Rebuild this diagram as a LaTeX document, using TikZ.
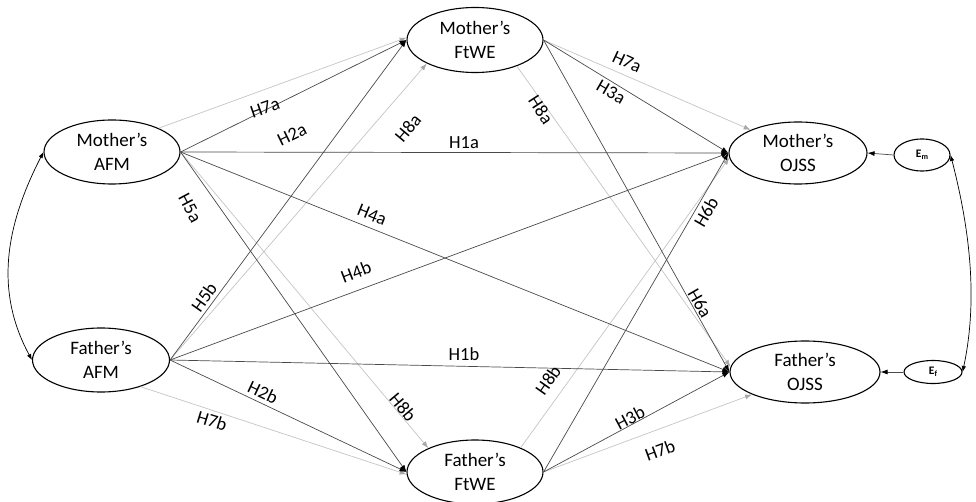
\documentclass[tikz,border=0pt]{standalone}
\usepackage{fontspec}
\setmainfont{Carlito}
\usetikzlibrary{shapes.geometric,arrows.meta}
\definecolor{darkline}{HTML}{4A4A4A}
\definecolor{lightline}{HTML}{C4C4C4}
\definecolor{lighthead}{HTML}{A8A8A8}
\newcommand{\errlab}[1]{E\raisebox{-2.5pt}{\fontsize{8}{8}\selectfont\bfseries #1}}
\tikzset{
  var/.style={ellipse, draw=black, line width=1.1pt, inner sep=0pt, align=center,
    font=\fontsize{19}{24}\selectfont},
  err/.style={ellipse, draw=black, line width=1.1pt, inner sep=0pt,
    font=\fontsize{11.5}{12}\selectfont\bfseries},
  dk/.style={draw=darkline, line width=0.7pt, -{Latex[length=7pt,width=5pt,color=black]}},
  lt/.style={draw=lightline, line width=0.7pt, -{Latex[length=7pt,width=5pt,color=lighthead]}},
  cov/.style={draw=black, line width=0.7pt, {Latex[length=6pt,width=4.5pt]}-{Latex[length=6pt,width=4.5pt]}},
  lab/.style={font=\fontsize{18.5}{20}\selectfont, inner sep=0pt},
}
\begin{document}
\begin{tikzpicture}[x=1pt, y=-1pt]
\useasboundingbox (0,0) rectangle (976,502);
% nodes
\node[var, minimum width=136pt, minimum height=64pt] (mafm) at (112,152) {Mother’s\\AFM};
\node[var, minimum width=137pt, minimum height=64pt] (fafm) at (101,360) {Father’s\\AFM};
\node[var, minimum width=136pt, minimum height=65pt] (mftwe) at (475,40) {Mother’s\\FtWE};
\node[var, minimum width=136pt, minimum height=64pt] (fftwe) at (475,472) {Father’s\\FtWE};
\node[var, minimum width=138pt, minimum height=62pt] (mojss) at (798,153) {Mother’s\\OJSS};
\node[var, minimum width=150pt, minimum height=62pt] (fojss) at (805,372) {Father’s\\OJSS};
\node[err, minimum width=56pt, minimum height=32pt] (em) at (922,155) {\errlab{m}};
\node[err, minimum width=58pt, minimum height=23pt] (ef) at (933,372) {\errlab{f}};
% light paths
\draw[lt] (mafm.27) -- (mftwe.178);
\draw[lt] (mafm.east) -- (fftwe.153);
\draw[lt] (fafm.east) -- (mftwe.206);
\draw[lt] (fafm.-34) -- (fftwe.182);
\draw[lt] (mftwe.east) -- (mojss.154);
\draw[lt] (mftwe.-32) -- (fojss.176);
\draw[lt] (fftwe.28) -- (mojss.184);
\draw[lt] (fftwe.east) -- (fojss.203);
% dark paths
\draw[dk] (mafm.east) -- (mftwe.west);
\draw[dk] (mafm.east) -- (mojss.west);
\draw[dk] (mafm.east) -- (fojss.west);
\draw[dk] (mafm.east) -- (fftwe.west);
\draw[dk] (fafm.east) -- (mftwe.west);
\draw[dk] (fafm.east) -- (mojss.west);
\draw[dk] (fafm.east) -- (fojss.west);
\draw[dk] (fafm.east) -- (fftwe.west);
\draw[dk] (mftwe.east) -- (mojss.west);
\draw[dk] (mftwe.east) -- (fojss.west);
\draw[dk] (fftwe.east) -- (mojss.west);
\draw[dk] (fftwe.east) -- (fojss.west);
\draw[dk] (em.west) -- (mojss.east);
\draw[dk] (ef.west) -- (fojss.east);
% covariances
\draw[cov] (mafm.west) .. controls (6,225) and (-6,290) .. (fafm.west);
\draw[cov] (em.east) .. controls (970,230) and (978,300) .. (ef.east);
% labels
\node[lab, rotate=19] (l7al) at (265,108) {H7a};
\node[lab, rotate=26] (l2a) at (292,135) {H2a};
\node[lab, rotate=50] (l8al) at (408,128) {H8a};
\node[lab] (l1a) at (464,143) {H1a};
\node[lab, rotate=-62] (l5a) at (190,208) {H5a};
\node[lab, rotate=-22] (l4a) at (372,215) {H4a};
\node[lab, rotate=21] (l4b) at (356,272) {H4b};
\node[lab, rotate=55] (l5b) at (204,297) {H5b};
\node[lab] (l1b) at (464,354) {H1b};
\node[lab, rotate=-25] (l2b) at (263,392) {H2b};
\node[lab, rotate=-17] (l7bl) at (212,421) {H7b};
\node[lab, rotate=-50] (l8bl) at (403,407) {H8b};
\node[lab, rotate=-25] (l7ar) at (627,62) {H7a};
\node[lab, rotate=-30] (l3a) at (611,92) {H3a};
\node[lab, rotate=-57] (l8ar) at (541,110) {H8a};
\node[lab, rotate=60] (l6b) at (706,212) {H6b};
\node[lab, rotate=-60] (l6a) at (700,303) {H6a};
\node[lab, rotate=55] (l8br) at (548,380) {H8b};
\node[lab, rotate=28] (l3b) at (630,418) {H3b};
\node[lab, rotate=20] (l7br) at (660,450) {H7b};
\end{tikzpicture}
\end{document}
